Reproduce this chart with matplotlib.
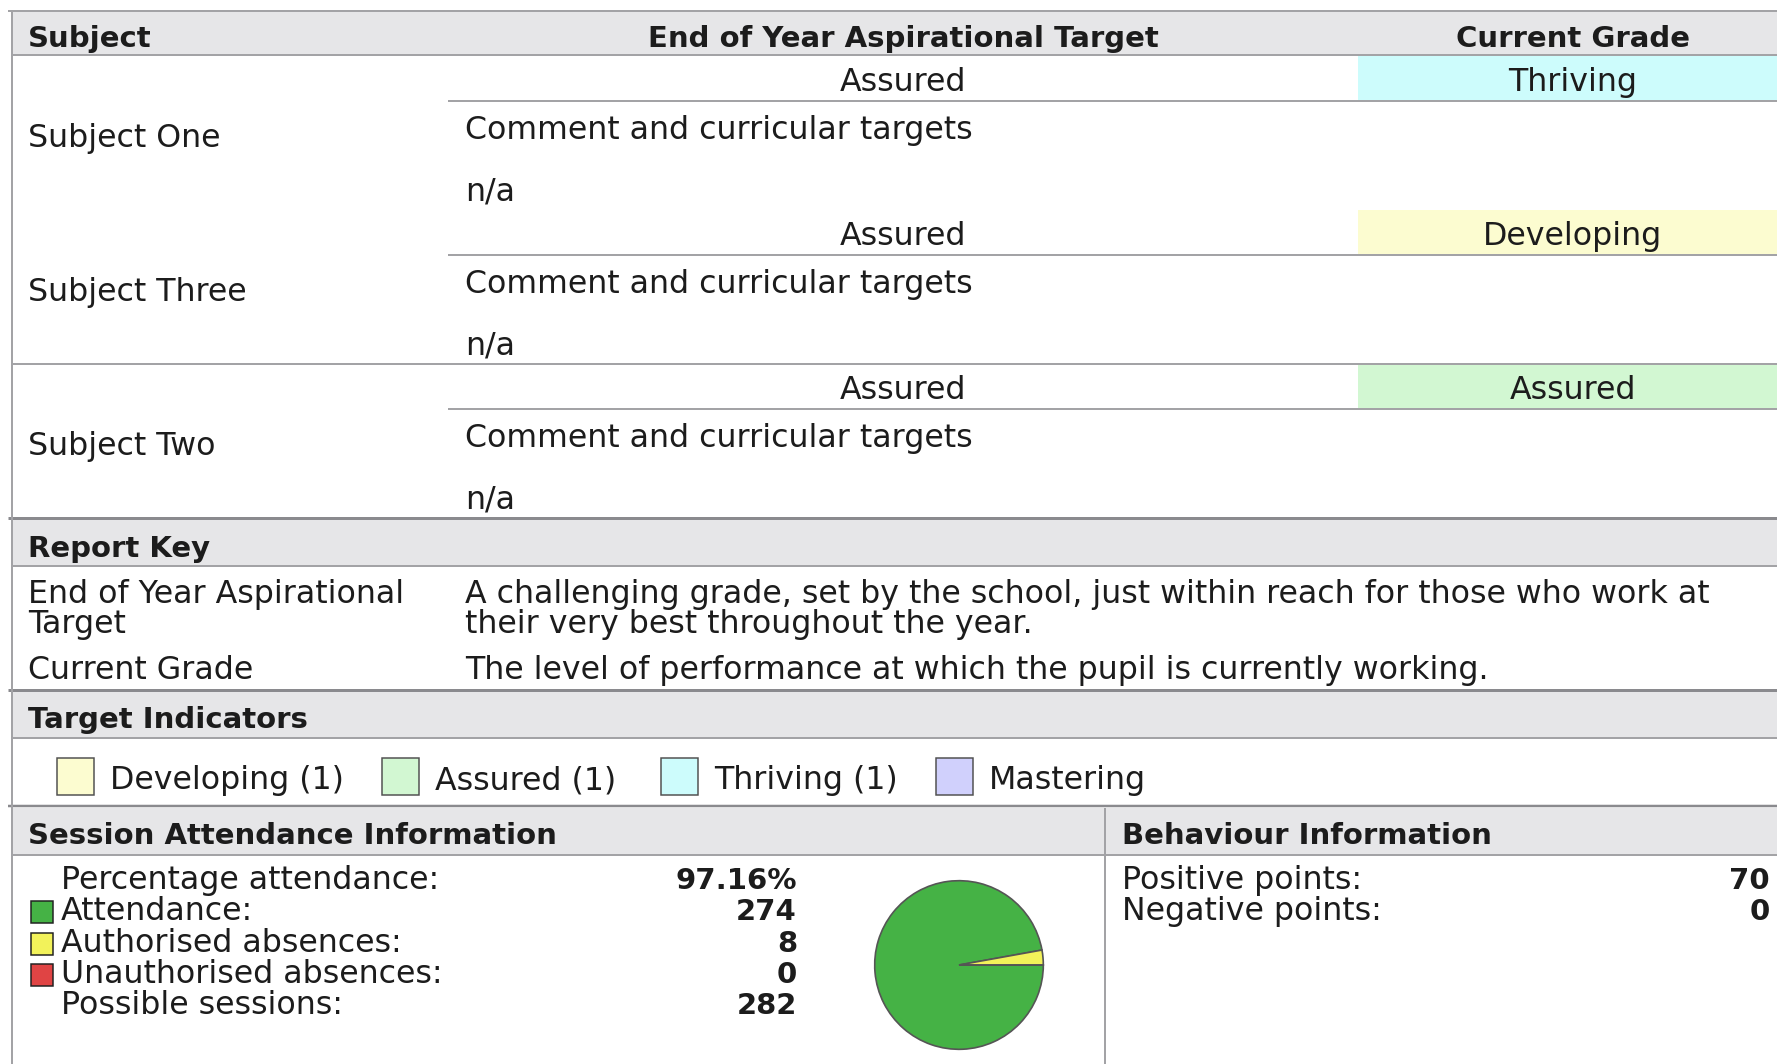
import matplotlib
matplotlib.use("Agg")
import matplotlib.pyplot as plt
from matplotlib.patches import Rectangle

# ---- report data ----
subjects = ["Subject One", "Subject Three", "Subject Two"]
aspirational = ["Assured", "Assured", "Assured"]
current_grade = ["Thriving", "Developing", "Assured"]
comment_title = "Comment and curricular targets"
comments = ["n/a", "n/a", "n/a"]

key_terms = [["End of Year Aspirational", "Target"], ["Current Grade"]]
key_text = [["A challenging grade, set by the school, just within reach for those who work at",
             "their very best throughout the year."],
            ["The level of performance at which the pupil is currently working."]]

indicator_names = ["Developing", "Assured", "Thriving", "Mastering"]
indicator_counts = [1, 1, 1, 0]

attend_labels = ["Attendance:", "Authorised absences:", "Unauthorised absences:"]
attend_values = [274, 8, 0]

behaviour_labels = ["Positive points:", "Negative points:"]
behaviour_values = [70, 0]

# ---- look ----
W, H = 1777, 1064
GRAY = "#e6e6e8"
LINE = "#a3a3a6"
DARK_LINE = "#8a8a8e"
INK = "#1c1c1c"
GRADE_COLORS = {"Developing": "#fcfcd0", "Assured": "#d2f7d2",
                "Thriving": "#cdfcfc", "Mastering": "#d0d0fc"}
ATTEND_COLORS = ["#45b245", "#f2f25a", "#e04444"]
REG, BOLD = 22.8, 21

LEFT, COL1, COL2 = 12, 448, 1358
TX, CTX = 28, 465

fig = plt.figure(figsize=(W / 100, H / 100), dpi=100)
ax = fig.add_axes([0, 0, 1, 1])
ax.set_xlim(0, W)
ax.set_ylim(H, 0)
ax.axis("off")


def hline(y, x0=LEFT, x1=W, px=2, color=LINE):
    ax.plot([x0, x1], [y, y], color=color, lw=px * 0.72, solid_capstyle="butt")


def vline(x, y0, y1, px=2, color=LINE):
    ax.plot([x, x], [y0, y1], color=color, lw=px * 0.72, solid_capstyle="butt")


def band(y0, y1, color, x0=LEFT, x1=W):
    ax.add_patch(Rectangle((x0, y0), x1 - x0, y1 - y0, facecolor=color, edgecolor="none"))


def txt(x, y, s, bold=False, ha="left"):
    ax.text(x, y, s, fontsize=BOLD if bold else REG, fontweight="bold" if bold else "normal",
            ha=ha, va="baseline", color=INK, family="DejaVu Sans")


# header row
band(11, 55, GRAY)
hline(11, x0=8)
hline(55)
txt(TX, 47, "Subject", bold=True)
txt((COL1 + COL2) / 2, 47, "End of Year Aspirational Target", bold=True, ha="center")
txt(1573, 47, "Current Grade", bold=True, ha="center")

# subject blocks
block_h = 154
for i, subj in enumerate(subjects):
    top = 55 + i * block_h
    if i == 2:
        hline(top + 1)
    band(top + 1, top + 46, GRADE_COLORS[current_grade[i]], x0=COL2)
    hline(top + 46, x0=COL1)
    txt((COL1 + COL2) / 2, top + 36, aspirational[i], ha="center")
    txt(1573, top + 36, current_grade[i], ha="center")
    txt(TX, top + 92, subj)
    txt(CTX, top + 84, comment_title)
    txt(CTX, top + 146, comments[i])

# report key
hline(518, x0=8, px=3, color=DARK_LINE)
band(520, 566, GRAY)
hline(566)
txt(TX, 557, "Report Key", bold=True)
row_y = [603, 679]
for term, desc, y in zip(key_terms, key_text, row_y):
    for j, line in enumerate(term):
        txt(TX, y + 30 * j, line)
    for j, line in enumerate(desc):
        txt(CTX, y + 30 * j, line)

# target indicators
hline(690, x0=8, px=3, color=DARK_LINE)
band(692, 738, GRAY)
hline(738)
txt(TX, 728, "Target Indicators", bold=True)
legend_x = [57, 382, 661, 936]
for name, count, x in zip(indicator_names, indicator_counts, legend_x):
    ax.add_patch(Rectangle((x, 758), 37, 37, facecolor=GRADE_COLORS[name],
                           edgecolor="#505050", lw=1.5 * 0.72))
    label = f"{name} ({count})" if count else name
    txt(x + 53, 789, label)

# attendance and behaviour
hline(806, x0=8, px=2.5, color=DARK_LINE)
band(808, 855, GRAY)
hline(855)
vline(1105, 808, H)
txt(TX, 844, "Session Attendance Information", bold=True)
txt(1122, 844, "Behaviour Information", bold=True)

possible = sum(attend_values)
pct = 100 * attend_values[0] / possible
rows = [("Percentage attendance:", f"{pct:.2f}%", None)]
rows += [(lab, str(v), c) for lab, v, c in zip(attend_labels, attend_values, ATTEND_COLORS)]
rows += [("Possible sessions:", str(possible), None)]
for i, (lab, val, col) in enumerate(rows):
    y = 889 + 31.3 * i
    if col:
        ax.add_patch(Rectangle((31, y - 19), 22, 22, facecolor=col, edgecolor="#202020", lw=1.5 * 0.72))
    txt(61, y, lab)
    txt(797, y, val, bold=True, ha="right")

for i, (lab, val) in enumerate(zip(behaviour_labels, behaviour_values)):
    y = 889 + 31.3 * i
    txt(1122, y, lab)
    txt(1770, y, str(val), bold=True, ha="right")

# left border
vline(LEFT, 11, H)

# attendance pie
cx, cy, r = 959, 965, 86
pax = fig.add_axes([(cx - r) / W, 1 - (cy + r) / H, 2 * r / W, 2 * r / H])
pax.pie(attend_values, colors=ATTEND_COLORS, startangle=0, counterclock=False,
        wedgeprops=dict(edgecolor="#555555", linewidth=1.2))
pax.set_xlim(-1.02, 1.02)
pax.set_ylim(-1.02, 1.02)
pax.axis("off")

fig.savefig("out.png", dpi=100, facecolor="white")
